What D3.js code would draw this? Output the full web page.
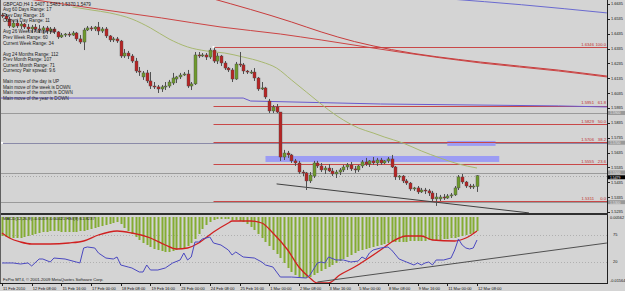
<!DOCTYPE html>
<html>
<head>
<meta charset="utf-8">
<script src="https://cdn.jsdelivr.net/npm/d3@7"></script>
<style>
html, body { margin: 0; padding: 0; background: #d4d4d4; }
svg { display: block; font-family: "Liberation Sans", Arial, sans-serif; }
</style>
</head>
<body>
<svg id="chart" width="625" height="291"></svg>
<script>
// GBPCAD H4, 11 Feb 2010 00:00 .. 12 Mar 2010 08:00 (129 bars)
// candles: [open, high, low, close]
var candles = [
[1.6561,1.6575,1.6541,1.6554],[1.6554,1.6568,1.6521,1.6534],[1.6534,1.6548,1.6474,1.6487],[1.6480,1.6521,1.6474,1.6507],
[1.6507,1.6527,1.6474,1.6487],[1.6487,1.6514,1.6467,1.6500],[1.6500,1.6507,1.6467,1.6480],[1.6480,1.6500,1.6453,1.6467],
[1.6467,1.6494,1.6440,1.6480],[1.6480,1.6500,1.6453,1.6467],[1.6467,1.6494,1.6440,1.6460],[1.6460,1.6487,1.6440,1.6474],
[1.6474,1.6487,1.6433,1.6453],[1.6453,1.6480,1.6433,1.6467],[1.6467,1.6480,1.6433,1.6447],[1.6447,1.6453,1.6400,1.6413],
[1.6413,1.6440,1.6406,1.6426],[1.6426,1.6440,1.6413,1.6433],[1.6433,1.6447,1.6413,1.6426],[1.6426,1.6453,1.6420,1.6440],
[1.6440,1.6447,1.6386,1.6400],[1.6400,1.6426,1.6366,1.6379],[1.6379,1.6474,1.6325,1.6460],[1.6460,1.6487,1.6453,1.6474],
[1.6474,1.6487,1.6453,1.6467],[1.6467,1.6487,1.6453,1.6480],[1.6480,1.6514,1.6426,1.6453],[1.6453,1.6480,1.6440,1.6467],
[1.6467,1.6480,1.6406,1.6420],[1.6420,1.6426,1.6379,1.6393],[1.6393,1.6413,1.6379,1.6400],[1.6400,1.6413,1.6373,1.6386],
[1.6386,1.6393,1.6272,1.6285],[1.6285,1.6332,1.6272,1.6305],[1.6305,1.6319,1.6265,1.6285],[1.6285,1.6298,1.6238,1.6251],
[1.6251,1.6272,1.6171,1.6184],[1.6184,1.6211,1.6151,1.6177],[1.6144,1.6184,1.6124,1.6171],[1.6171,1.6191,1.6103,1.6117],
[1.6117,1.6177,1.6063,1.6083],[1.6083,1.6110,1.6063,1.6077],[1.6077,1.6090,1.6036,1.6063],[1.6063,1.6090,1.6043,1.6077],
[1.6077,1.6110,1.6056,1.6083],[1.6083,1.6124,1.6070,1.6110],[1.6103,1.6171,1.6090,1.6137],[1.6130,1.6151,1.6103,1.6144],
[1.6144,1.6171,1.6130,1.6157],[1.6157,1.6177,1.6151,1.6164],[1.6164,1.6191,1.6070,1.6083],[1.6083,1.6110,1.6056,1.6097],
[1.6097,1.6312,1.6090,1.6292],[1.6292,1.6312,1.6272,1.6285],[1.6285,1.6305,1.6278,1.6292],[1.6292,1.6305,1.6258,1.6278],
[1.6278,1.6339,1.6265,1.6325],[1.6325,1.6346,1.6238,1.6251],[1.6251,1.6305,1.6231,1.6285],[1.6285,1.6292,1.6218,1.6238],
[1.6238,1.6251,1.6191,1.6204],[1.6204,1.6211,1.6177,1.6191],[1.6191,1.6204,1.6110,1.6130],[1.6130,1.6245,1.6124,1.6231],
[1.6231,1.6312,1.6211,1.6225],[1.6225,1.6238,1.6164,1.6184],[1.6184,1.6191,1.6164,1.6177],[1.6177,1.6191,1.6164,1.6177],
[1.6177,1.6204,1.6117,1.6137],[1.6137,1.6144,1.6050,1.6063],[1.6063,1.6110,1.6056,1.6070],[1.6070,1.6077,1.5996,1.6009],
[1.5982,1.5996,1.5901,1.5915],[1.5915,1.5955,1.5901,1.5942],[1.5942,1.5962,1.5901,1.5908],[1.5908,1.5908,1.5579,1.5605],
[1.5605,1.5653,1.5585,1.5632],[1.5632,1.5646,1.5599,1.5619],[1.5619,1.5626,1.5565,1.5579],[1.5579,1.5592,1.5545,1.5565],
[1.5565,1.5579,1.5491,1.5504],[1.5504,1.5518,1.5477,1.5498],[1.5498,1.5504,1.5383,1.5444],[1.5444,1.5504,1.5430,1.5484],
[1.5477,1.5579,1.5464,1.5565],[1.5565,1.5579,1.5531,1.5545],[1.5545,1.5565,1.5504,1.5518],[1.5518,1.5545,1.5491,1.5531],
[1.5531,1.5558,1.5504,1.5511],[1.5511,1.5531,1.5477,1.5491],[1.5491,1.5518,1.5464,1.5504],[1.5504,1.5531,1.5484,1.5518],
[1.5518,1.5552,1.5504,1.5538],[1.5538,1.5565,1.5518,1.5552],[1.5552,1.5572,1.5511,1.5525],[1.5525,1.5545,1.5498,1.5518],
[1.5518,1.5552,1.5504,1.5545],[1.5545,1.5585,1.5531,1.5572],[1.5572,1.5599,1.5545,1.5558],[1.5558,1.5585,1.5538,1.5579],
[1.5579,1.5605,1.5552,1.5565],[1.5565,1.5599,1.5545,1.5585],[1.5585,1.5599,1.5552,1.5565],[1.5565,1.5585,1.5558,1.5579],
[1.5579,1.5605,1.5565,1.5592],[1.5592,1.5619,1.5531,1.5538],[1.5538,1.5545,1.5451,1.5471],[1.5471,1.5484,1.5451,1.5477],
[1.5477,1.5484,1.5430,1.5444],[1.5444,1.5457,1.5417,1.5430],[1.5430,1.5437,1.5377,1.5390],[1.5390,1.5404,1.5377,1.5397],
[1.5397,1.5410,1.5356,1.5370],[1.5370,1.5397,1.5363,1.5383],[1.5383,1.5397,1.5356,1.5377],[1.5377,1.5390,1.5343,1.5363],
[1.5363,1.5377,1.5309,1.5323],[1.5323,1.5363,1.5276,1.5336],[1.5323,1.5350,1.5309,1.5336],[1.5336,1.5356,1.5316,1.5329],
[1.5329,1.5356,1.5323,1.5343],[1.5343,1.5363,1.5329,1.5350],[1.5350,1.5410,1.5343,1.5397],[1.5397,1.5484,1.5383,1.5471],
[1.5471,1.5491,1.5424,1.5437],[1.5437,1.5444,1.5397,1.5410],[1.5410,1.5424,1.5390,1.5404],[1.5404,1.5424,1.5390,1.5410],
[1.5407,1.5483,1.5370,1.5479]
];

// MACD histogram, one value per bar
var macdHist = [
-0.0038,-0.004,-0.0042,-0.0042,-0.0042,-0.0042,-0.004,-0.0038,-0.0036,
-0.0034,-0.0032,-0.003,-0.003,-0.0028,-0.0028,-0.0028,-0.003,-0.003,-0.003,
-0.003,-0.003,-0.0028,-0.0028,-0.0026,-0.0024,-0.0022,-0.002,-0.0018,-0.0016,
-0.0014,-0.0012,-0.001,-0.0014,
-0.0022,-0.0028,-0.0034,-0.004,-0.0046,-0.0052,-0.0056,-0.006,-0.0064,-0.0066,-0.0068,-0.007,-0.007,-0.0068,
-0.0066,-0.0064,-0.0062,-0.0058,-0.0052,-0.0044,-0.0034,-0.0024,
-0.0016,-0.001,-0.0006,-0.0004,-0.0004,-0.0004,-0.0004,-0.0006,-0.0006,-0.0008,-0.001,
-0.0014,-0.002,-0.0026,-0.0034,-0.0042,-0.005,-0.0058,-0.0066,-0.0074,
-0.0082,-0.0092,-0.0102,-0.011,-0.0116,-0.012,-0.0122,-0.0122,-0.012,-0.0116,
-0.0112,-0.0108,-0.0104,-0.01,-0.0096,-0.0092,-0.0088,-0.0084,-0.008,-0.0076,-0.0072,-0.0068,-0.0066,-0.0064,-0.0062,
-0.006,-0.0058,-0.0056,-0.0054,-0.0052,-0.005,-0.005,-0.005,-0.005,-0.005,-0.0048,-0.0048,-0.0048,-0.0048,-0.0048,-0.0046,
-0.0046,-0.0046,-0.0046,-0.0044,-0.0044,-0.0042,-0.0042,-0.004,-0.0038,-0.0036,-0.0034,-0.0032,-0.0028
];

// signal line, [bar, value]
var macdSignal = [[0,-0.0032],[2,-0.0042],[5,-0.005],[8,-0.0054],[13,-0.0054],[18,-0.0052],[22,-0.0048],
[26,-0.0036],[31,-0.0028],[35,-0.0032],[40,-0.0042],[44,-0.0056],[47,-0.0064],[50,-0.0062],[53,-0.0052],
[57,-0.003],[61,-0.0012],[62,-0.0008],[67,-0.0008],[70,-0.0012],[73,-0.0032],[77,-0.0066],[80,-0.01],
[83,-0.0122],[85,-0.0132],[88,-0.0132],[91,-0.0116],[95,-0.01],[98,-0.0086],[102,-0.0066],[105,-0.005],
[109,-0.0038],[113,-0.0038],[116,-0.0046],[122,-0.0048],[125,-0.0042],[128,-0.0028]];

// oscillator (blue), [bar, value]
var osc = [[0,18.0],[3,18.0],[5,15.9],[7,18.0],[8,11.9],[10,26.1],[11,26.1],[13,20.0],[14,28.1],[17,26.1],
[20,20.0],[21,18.0],[22,48.5],[23,50.6],[25,48.5],[26,38.3],[28,28.1],[30,26.1],[31,30.2],[32,13.9],
[34,9.8],[35,7.8],[37,-0.4],[38,-0.4],[39,13.9],[40,3.7],[42,3.7],[44,7.8],[46,18.0],[48,24.1],[49,38.3],
[50,24.1],[51,30.2],[52,60.7],[53,60.7],[54,66.9],[56,70.9],[57,58.7],[59,54.6],[61,44.4],[62,34.3],
[63,40.4],[65,30.2],[68,28.1],[70,20.0],[71,13.9],[73,9.8],[75,-10.6],[78,-10.6],[82,-12.6],[83,-6.5],
[85,18.0],[86,20.0],[87,18.0],[88,30.2],[90,24.1],[92,24.1],[94,20.0],[96,22.0],[97,30.2],[98,26.1],
[99,38.3],[100,44.4],[102,48.5],[104,50.6],[105,44.4],[107,26.1],[109,20.0],[111,13.9],[112,18.0],
[113,13.9],[114,18.0],[115,20.0],[116,13.9],[117,24.1],[119,24.1],[121,28.1],[122,44.4],[123,66.9],
[124,54.6],[125,48.5],[126,46.5],[127,48.5],[128,64.8]];

// moving averages / long lines, [bar, price]
var maOlive = [[19,1.6615],[24,1.6595],[29,1.6575],[35,1.6534],[40,1.6474],[45,1.6400],[50,1.6346],
[55,1.6319],[60,1.6305],[65,1.6278],[70,1.6245],[74,1.6204],[78,1.6124],[82,1.6043],[85,1.5982],
[88,1.5922],[92,1.5854],[96,1.5801],[100,1.5767],[103,1.5740],[108,1.5700],[113,1.5646],[118,1.5599],
[123,1.5558],[128,1.5531]];
var maRed = [[5,1.6676],[26,1.6601],[43,1.6541],[59,1.6480],[75,1.6433],[86,1.6393],[107,1.6312],
[129,1.6238],[150,1.6184],[163,1.6144]];
var maRed2 = [[56,1.6676],[78,1.6514],[86,1.6447],[95,1.6382],[105,1.6328],[129,1.6244],[150,1.6190],[163,1.6150]];
var maBlue = [[120,1.6670],[140,1.6630],[163,1.6575]];
var maYear = [[-1,1.6002],[65,1.6002],[67,1.5982],[102,1.5962],[150,1.5949],[163,1.5942]];

// fibonacci retracement, anchored at bar 57
var fibStart = 57;
var fibLevels = ["100.0", "61.8", "50.0", "38.2", "23.6", "0.0"];
var fibPrices = [1.6346, 1.5951, 1.5829, 1.5706, 1.5555, 1.5311];

var roundLevels = [1.5900, 1.5700, 1.5500, 1.5300];
var bid = 1.5479;
var trendMain = [[74, 1.5424], [142, 1.5229]];
var trendOsc = [[85, -20.7], [163, 58.7]];
var zones = [{b0: 71, b1: 134, top: 1.5612, bottom: 1.5572}, {b0: 120, b1: 133, top: 1.5713, bottom: 1.5680}];

var priceTicks = [1.6635,1.6535,1.6435,1.6335,1.6235,1.6135,1.6035,1.5935,1.5835,1.5735,1.5635,1.5535,1.5435,1.5335,1.5235];
var dateTicks = [0,8,16,24,32,40,48,56,64,72,80,88,96,104,112,120,128];
var dateLabels = ["11 Feb 2010","12 Feb 08:00","15 Feb 16:00","17 Feb 00:00","18 Feb 08:00","19 Feb 16:00",
"23 Feb 00:00","24 Feb 08:00","25 Feb 16:00","1 Mar 00:00","2 Mar 08:00","3 Mar 16:00","5 Mar 00:00",
"8 Mar 08:00","9 Mar 16:00","11 Mar 00:00","12 Mar 08:00"];
var oscLevels = [75, 20];
var macdLabels = ["0.00562", "-0.01564"];

var infoLines = ["Avg 60 Days Range: 17", "Prev Day Range: 16", "Current Day Range: 11", "",
"Avg 26 Weeks Range: 40", "Prev Week Range: 60", "Current Week Range: 34", "",
"Avg 24 Months Range: 112", "Prev Month Range: 107", "Current Month Range: 71", "Currency Pair spread: 9.6", "",
"Main move of the day is UP", "Main move of the week is DOWN", "Main move of the month is DOWN", "Main move of the year is DOWN"];
var title = "GBPCAD,H4  1.5407 1.5483 1.5370 1.5479";
var indTitle = "MACD(12,26,9) -0.0019 -0.00421  RSI(9) 61.8237";
var copyright = "FxPro MT4, \u00a9 2001-2009 MetaQuotes Software Corp.";

// ---- layout
var axisX = 607, mainBottom = 213, indTop = 215, indBottom = 283;

var svg = d3.select('#chart');
svg.append('rect').attr('width', 625).attr('height', 291).attr('fill', '#d4d4d4');

var x = d3.scaleLinear().domain([0, 128]).range([2, 477]);
var y = d3.scaleLinear().domain([1.6635, 1.5235]).range([4, 212]);
var hy = d3.scaleLinear().domain([0, -0.0128]).range([217, 281]);
var oy = d3.scaleLinear().domain([75, 20]).range([235, 262]);

var defs = svg.append('defs');
defs.append('clipPath').attr('id', 'clipMain').append('rect')
	.attr('x', 0).attr('y', 0).attr('width', axisX).attr('height', mainBottom);
defs.append('clipPath').attr('id', 'clipInd').append('rect')
	.attr('x', 0).attr('y', indTop).attr('width', axisX).attr('height', indBottom - indTop);

var main = svg.append('g').attr('clip-path', 'url(#clipMain)');
var ind = svg.append('g').attr('clip-path', 'url(#clipInd)');

var px = function(i) { return Math.round(x(i)) + 0.5; };

// round-number lines
main.selectAll('.lvl').data(roundLevels).enter().append('line')
	.attr('x1', 0).attr('x2', axisX)
	.attr('y1', function(d) { return Math.round(y(d)) + 0.5; })
	.attr('y2', function(d) { return Math.round(y(d)) + 0.5; })
	.attr('stroke', function(d, i) { return i === 1 ? '#8a8aa8' : '#9a9a9a'; })
	.attr('stroke-width', 1);

// bid line
main.append('line').attr('x1', 0).attr('x2', axisX)
	.attr('y1', Math.round(y(bid)) + 0.5).attr('y2', Math.round(y(bid)) + 0.5)
	.attr('stroke', '#a8a8a8').attr('stroke-dasharray', '1,2');

// zones
main.selectAll('.zone').data(zones).enter().append('rect')
	.attr('x', function(d) { return x(d.b0); })
	.attr('width', function(d) { return x(d.b1) - x(d.b0); })
	.attr('y', function(d) { return y(d.top); })
	.attr('height', function(d) { return y(d.bottom) - y(d.top); })
	.attr('fill', '#9c9cf4');

// fib lines
main.selectAll('.fib').data(fibPrices).enter().append('line')
	.attr('x1', x(fibStart)).attr('x2', axisX)
	.attr('y1', function(d) { return Math.round(y(d)) + 0.5; })
	.attr('y2', function(d) { return Math.round(y(d)) + 0.5; })
	.attr('stroke', '#c84848');
main.selectAll('.fibp').data(fibPrices).enter().append('text')
	.attr('x', 594).attr('y', function(d) { return y(d) - 1.2; })
	.attr('text-anchor', 'end').attr('font-size', 4.2).attr('fill', '#c03030')
	.text(function(d) { return d.toFixed(4); });
main.selectAll('.fibl').data(fibLevels).enter().append('text')
	.attr('x', 606).attr('y', function(d, i) { return y(fibPrices[i]) - 1.2; })
	.attr('text-anchor', 'end').attr('font-size', 4.2).attr('fill', '#c03030')
	.text(function(d) { return d; });

// long lines
var priceLine = d3.line().x(function(d) { return x(d[0]); }).y(function(d) { return y(d[1]); });
var smooth = d3.line().x(function(d) { return x(d[0]); }).y(function(d) { return y(d[1]); }).curve(d3.curveMonotoneX);
main.append('path').attr('d', priceLine(maYear)).attr('fill', 'none').attr('stroke', '#6a5acd').attr('stroke-width', 1);
main.append('path').attr('d', smooth(maRed)).attr('fill', 'none').attr('stroke', '#cc4444').attr('stroke-width', 1);
main.append('path').attr('d', smooth(maRed2)).attr('fill', 'none').attr('stroke', '#c83c3c').attr('stroke-width', 1);
main.append('path').attr('d', smooth(maBlue)).attr('fill', 'none').attr('stroke', '#6a6ad0').attr('stroke-width', 1);
main.append('path').attr('d', smooth(maOlive)).attr('fill', 'none').attr('stroke', '#a8b870').attr('stroke-width', 1);
main.append('path').attr('d', priceLine(trendMain)).attr('fill', 'none').attr('stroke', '#404040').attr('stroke-width', 1);

// candles
var cg = main.append('g');
cg.selectAll('.wick').data(candles).enter().append('line')
	.attr('x1', function(d, i) { return px(i); }).attr('x2', function(d, i) { return px(i); })
	.attr('y1', function(d) { return y(d[1]); }).attr('y2', function(d) { return y(d[2]); })
	.attr('stroke', '#505050').attr('stroke-width', 1);
cg.selectAll('.body').data(candles).enter().append('rect')
	.attr('x', function(d, i) { return Math.round(x(i)) - 1; })
	.attr('width', 3)
	.attr('y', function(d) { return y(Math.max(d[0], d[3])); })
	.attr('height', function(d) { return Math.max(1, Math.abs(y(d[0]) - y(d[3]))); })
	.attr('fill', function(d) { return d[3] >= d[0] ? '#6e9a2c' : '#b82424'; })
	.attr('stroke', '#4a4a4a').attr('stroke-width', 0.4);

// handles
main.append('rect').attr('x', x(fibStart) - 1).attr('y', y(fibPrices[0]) - 1).attr('width', 2).attr('height', 2).attr('fill', '#fff');
main.append('rect').attr('x', 1).attr('y', y(roundLevels[1]) - 1).attr('width', 2).attr('height', 2).attr('fill', '#fff');

// info text
var info = svg.append('g').attr('font-size', 4.6).attr('fill', '#1a1a1a');
info.append('text').attr('x', 3).attr('y', 6).text(title);
info.selectAll('.il').data(infoLines).enter().append('text')
	.attr('x', 3).attr('y', function(d, i) { return 11.2 + i * 5.55; })
	.text(function(d) { return d; });

// frames
svg.append('line').attr('x1', axisX + 0.5).attr('x2', axisX + 0.5).attr('y1', 0).attr('y2', indBottom)
	.attr('stroke', '#202020');
svg.append('rect').attr('x', 0).attr('y', mainBottom).attr('width', axisX + 1).attr('height', indTop - mainBottom)
	.attr('fill', '#303030');
svg.append('line').attr('x1', 0).attr('x2', axisX + 1).attr('y1', indBottom + 0.5).attr('y2', indBottom + 0.5)
	.attr('stroke', '#202020');
svg.append('line').attr('x1', 0.5).attr('x2', 0.5).attr('y1', 0).attr('y2', indBottom).attr('stroke', '#606060');

// price axis
var pAxis = svg.append('g').attr('font-size', 3.9).attr('fill', '#111');
pAxis.selectAll('.pt').data(priceTicks).enter().append('line')
	.attr('x1', axisX).attr('x2', axisX + 3)
	.attr('y1', function(d) { return Math.round(y(d)) + 0.5; })
	.attr('y2', function(d) { return Math.round(y(d)) + 0.5; })
	.attr('stroke', '#202020');
pAxis.selectAll('.pl').data(priceTicks).enter().append('text')
	.attr('x', axisX + 4).attr('y', function(d) { return y(d) + 1.4; })
	.text(function(d) { return d.toFixed(4); });

// price boxes (line labels on the axis)
var boxes = pAxis.selectAll('.pb').data(roundLevels).enter().append('g');
boxes.append('rect').attr('x', axisX + 1).attr('y', function(d) { return y(d) - 2.2; })
	.attr('width', 17).attr('height', 4).attr('fill', '#9a9a9a');
boxes.append('text').attr('x', axisX + 3).attr('y', function(d) { return y(d) + 1.2; })
	.attr('font-size', 3.4).attr('fill', '#e8e8e8').text(function(d) { return d.toFixed(4); });
pAxis.append('rect').attr('x', axisX + 1).attr('y', y(bid) - 0.5).attr('width', 17).attr('height', 4).attr('fill', '#000');
pAxis.append('text').attr('x', axisX + 3).attr('y', y(bid) + 2.9).attr('font-size', 3.4).attr('fill', '#fff').text(bid.toFixed(4));

// indicator window
ind.selectAll('.lv').data(oscLevels).enter().append('line')
	.attr('x1', 0).attr('x2', axisX)
	.attr('y1', function(d) { return Math.round(oy(d)) + 0.5; })
	.attr('y2', function(d) { return Math.round(oy(d)) + 0.5; })
	.attr('stroke', '#b0b0b0').attr('stroke-dasharray', '1,2');
ind.selectAll('.hb').data(macdHist).enter().append('rect')
	.attr('x', function(d, i) { return Math.round(x(i)) - 0.5; })
	.attr('width', 2)
	.attr('y', hy(0))
	.attr('height', function(d) { return hy(d) - hy(0); })
	.attr('fill', '#84ac32');
var hLine = d3.line().x(function(d) { return x(d[0]); }).y(function(d) { return hy(d[1]); }).curve(d3.curveMonotoneX);
var oLine = d3.line().x(function(d) { return x(d[0]); }).y(function(d) { return oy(d[1]); });
ind.append('path').attr('d', hLine(macdSignal)).attr('fill', 'none').attr('stroke', '#d02020').attr('stroke-width', 1.3);
ind.append('path').attr('d', oLine(osc)).attr('fill', 'none').attr('stroke', '#4a48c0').attr('stroke-width', 1);
ind.append('path').attr('d', oLine(trendOsc)).attr('fill', 'none').attr('stroke', '#505050').attr('stroke-width', 1);

var iAxis = svg.append('g').attr('font-size', 3.9).attr('fill', '#111');
iAxis.append('text').attr('x', axisX + 3).attr('y', 218.5).text(macdLabels[0]);
iAxis.append('text').attr('x', axisX + 3).attr('y', 281.5).text(macdLabels[1]);
iAxis.selectAll('.ol').data(oscLevels).enter().append('text')
	.attr('x', axisX + 6).attr('y', function(d) { return oy(d) + 1.4; })
	.text(function(d) { return d; });

svg.append('text').attr('x', 3).attr('y', 219.5).attr('font-size', 4.2).attr('fill', '#1a1a1a').text(indTitle);
svg.append('text').attr('x', 3).attr('y', 280.5).attr('font-size', 4.2).attr('fill', '#1a1a1a').text(copyright);

// date axis
var dAxis = svg.append('g').attr('font-size', 4).attr('fill', '#111');
dAxis.selectAll('.dt').data(dateTicks).enter().append('line')
	.attr('x1', function(d) { return px(d); }).attr('x2', function(d) { return px(d); })
	.attr('y1', indBottom).attr('y2', indBottom + 3).attr('stroke', '#202020');
dAxis.selectAll('.dl').data(dateTicks).enter().append('text')
	.attr('x', function(d) { return x(d) + 1; }).attr('y', 289.5)
	.text(function(d, i) { return dateLabels[i]; });
</script>
</body>
</html>
